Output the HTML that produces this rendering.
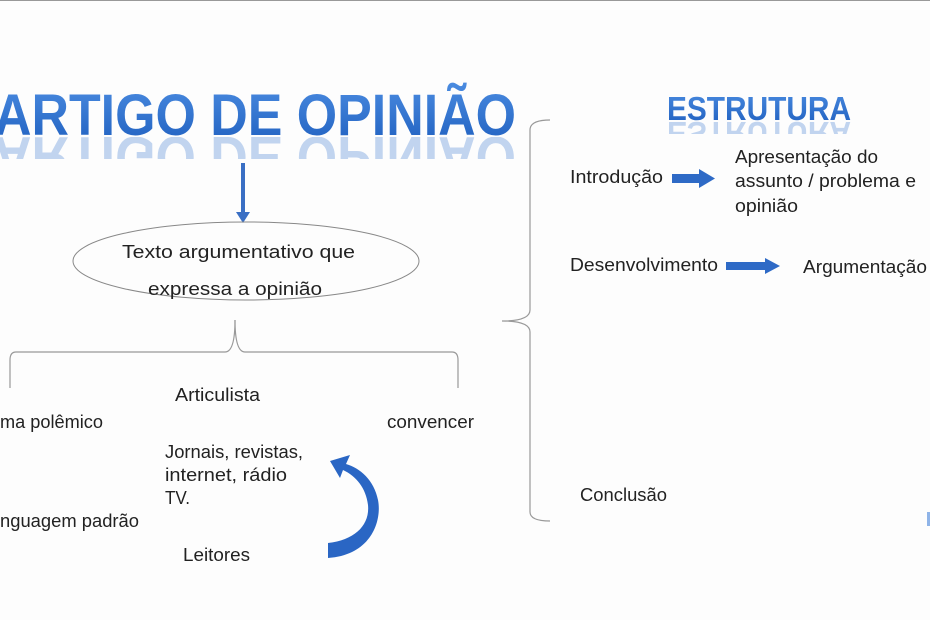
<!DOCTYPE html>
<html><head><meta charset="utf-8"><style>
html,body{margin:0;padding:0;background:#fff;}
svg{display:block;}
text{font-family:"Liberation Sans",sans-serif;fill:#222;}
</style></head><body>
<svg width="930" height="620" viewBox="0 0 930 620" xmlns="http://www.w3.org/2000/svg">
<defs>
<linearGradient id="tg" x1="0" y1="0" x2="0" y2="1">
<stop offset="0" stop-color="#4a8be0"/><stop offset="1" stop-color="#1f5fbf"/>
</linearGradient>
<clipPath id="c1"><rect x="0" y="137" width="930" height="22"/></clipPath>
<clipPath id="c2"><rect x="0" y="121" width="930" height="13"/></clipPath>
</defs>
<rect x="0" y="0" width="930" height="620" fill="#fdfdfd"/>
<line x1="0" y1="0.5" x2="930" y2="0.5" stroke="#999" stroke-width="1"/>

<text x="-6" y="135" font-size="58" font-weight="bold" textLength="522" lengthAdjust="spacingAndGlyphs" style="fill:url(#tg)">ARTIGO DE OPINIÃO</text>
<g clip-path="url(#c1)" opacity="0.3"><text x="-6" y="135" font-size="58" font-weight="bold" textLength="522" lengthAdjust="spacingAndGlyphs" transform="translate(0,272) scale(1,-1)" style="fill:#3a78d0">ARTIGO DE OPINIÃO</text></g>

<text x="667" y="120" font-size="33" font-weight="bold" textLength="184" lengthAdjust="spacingAndGlyphs" style="fill:url(#tg)">ESTRUTURA</text>
<g clip-path="url(#c2)" opacity="0.3"><text x="667" y="120" font-size="33" font-weight="bold" textLength="184" lengthAdjust="spacingAndGlyphs" transform="translate(0,242) scale(1,-1)" style="fill:#3a78d0">ESTRUTURA</text></g>

<rect x="241" y="163" width="4" height="50" fill="#3a6fc4"/>
<polygon points="236,212 250,212 243,223" fill="#3a6fc4"/>

<ellipse cx="246" cy="261" rx="173" ry="39" fill="none" stroke="#888" stroke-width="1"/>
<text x="122" y="258" font-size="18" textLength="233" lengthAdjust="spacingAndGlyphs">Texto argumentativo que</text>
<text x="148" y="295" font-size="18" textLength="174" lengthAdjust="spacingAndGlyphs">expressa a opinião</text>

<path d="M235,320 Q235,352 225,352 L16,352 Q10,352 10,360 L10,388" fill="none" stroke="#999" stroke-width="1.2"/>
<path d="M235,320 Q235,352 245,352 L452,352 Q458,352 458,360 L458,388" fill="none" stroke="#999" stroke-width="1.2"/>

<text x="175" y="401" font-size="18" textLength="85" lengthAdjust="spacingAndGlyphs">Articulista</text>
<text x="0" y="428" font-size="18" textLength="103" lengthAdjust="spacingAndGlyphs">ma polêmico</text>
<text x="387" y="428" font-size="18" textLength="87" lengthAdjust="spacingAndGlyphs">convencer</text>
<text x="165" y="458" font-size="18" textLength="138" lengthAdjust="spacingAndGlyphs">Jornais, revistas,</text>
<text x="165" y="481" font-size="18" textLength="122" lengthAdjust="spacingAndGlyphs">internet, rádio</text>
<text x="165" y="504" font-size="18" textLength="25" lengthAdjust="spacingAndGlyphs">TV.</text>
<text x="0" y="527" font-size="18" textLength="139" lengthAdjust="spacingAndGlyphs">nguagem padrão</text>
<text x="183" y="561" font-size="18" textLength="67" lengthAdjust="spacingAndGlyphs">Leitores</text>

<path d="M328,558 C372,555 382,520 378,500 C374,480 360,468 346,464 L350,455 L330,461 L340,478 L343,470 C356,476 366,488 368,505 C370,525 355,540 328,543 Z" fill="#2a66c4"/>

<path d="M550,120 Q530,120 530,130 L530,310 Q530,321 502,321 Q530,321 530,332 L530,512 Q530,521 550,521" fill="none" stroke="#999" stroke-width="1.2"/>

<text x="570" y="183" font-size="18" textLength="93" lengthAdjust="spacingAndGlyphs">Introdução</text>
<rect x="672" y="174" width="28" height="9" fill="#2e6ac6"/>
<polygon points="699,169 715,178.5 699,188" fill="#2e6ac6"/>
<text x="735" y="163" font-size="18" textLength="143" lengthAdjust="spacingAndGlyphs">Apresentação do</text>
<text x="735" y="187" font-size="18" textLength="181" lengthAdjust="spacingAndGlyphs">assunto / problema e</text>
<text x="735" y="212" font-size="18" textLength="63" lengthAdjust="spacingAndGlyphs">opinião</text>

<text x="570" y="271" font-size="18" textLength="148" lengthAdjust="spacingAndGlyphs">Desenvolvimento</text>
<rect x="726" y="262" width="40" height="8" fill="#2e6ac6"/>
<polygon points="765,258 780,266 765,274" fill="#2e6ac6"/>
<text x="803" y="273" font-size="18" textLength="124" lengthAdjust="spacingAndGlyphs">Argumentação</text>

<text x="580" y="501" font-size="18" textLength="87" lengthAdjust="spacingAndGlyphs">Conclusão</text>
<rect x="927" y="512" width="3" height="14" fill="#8fb4e8"/>
</svg>
</body></html>
